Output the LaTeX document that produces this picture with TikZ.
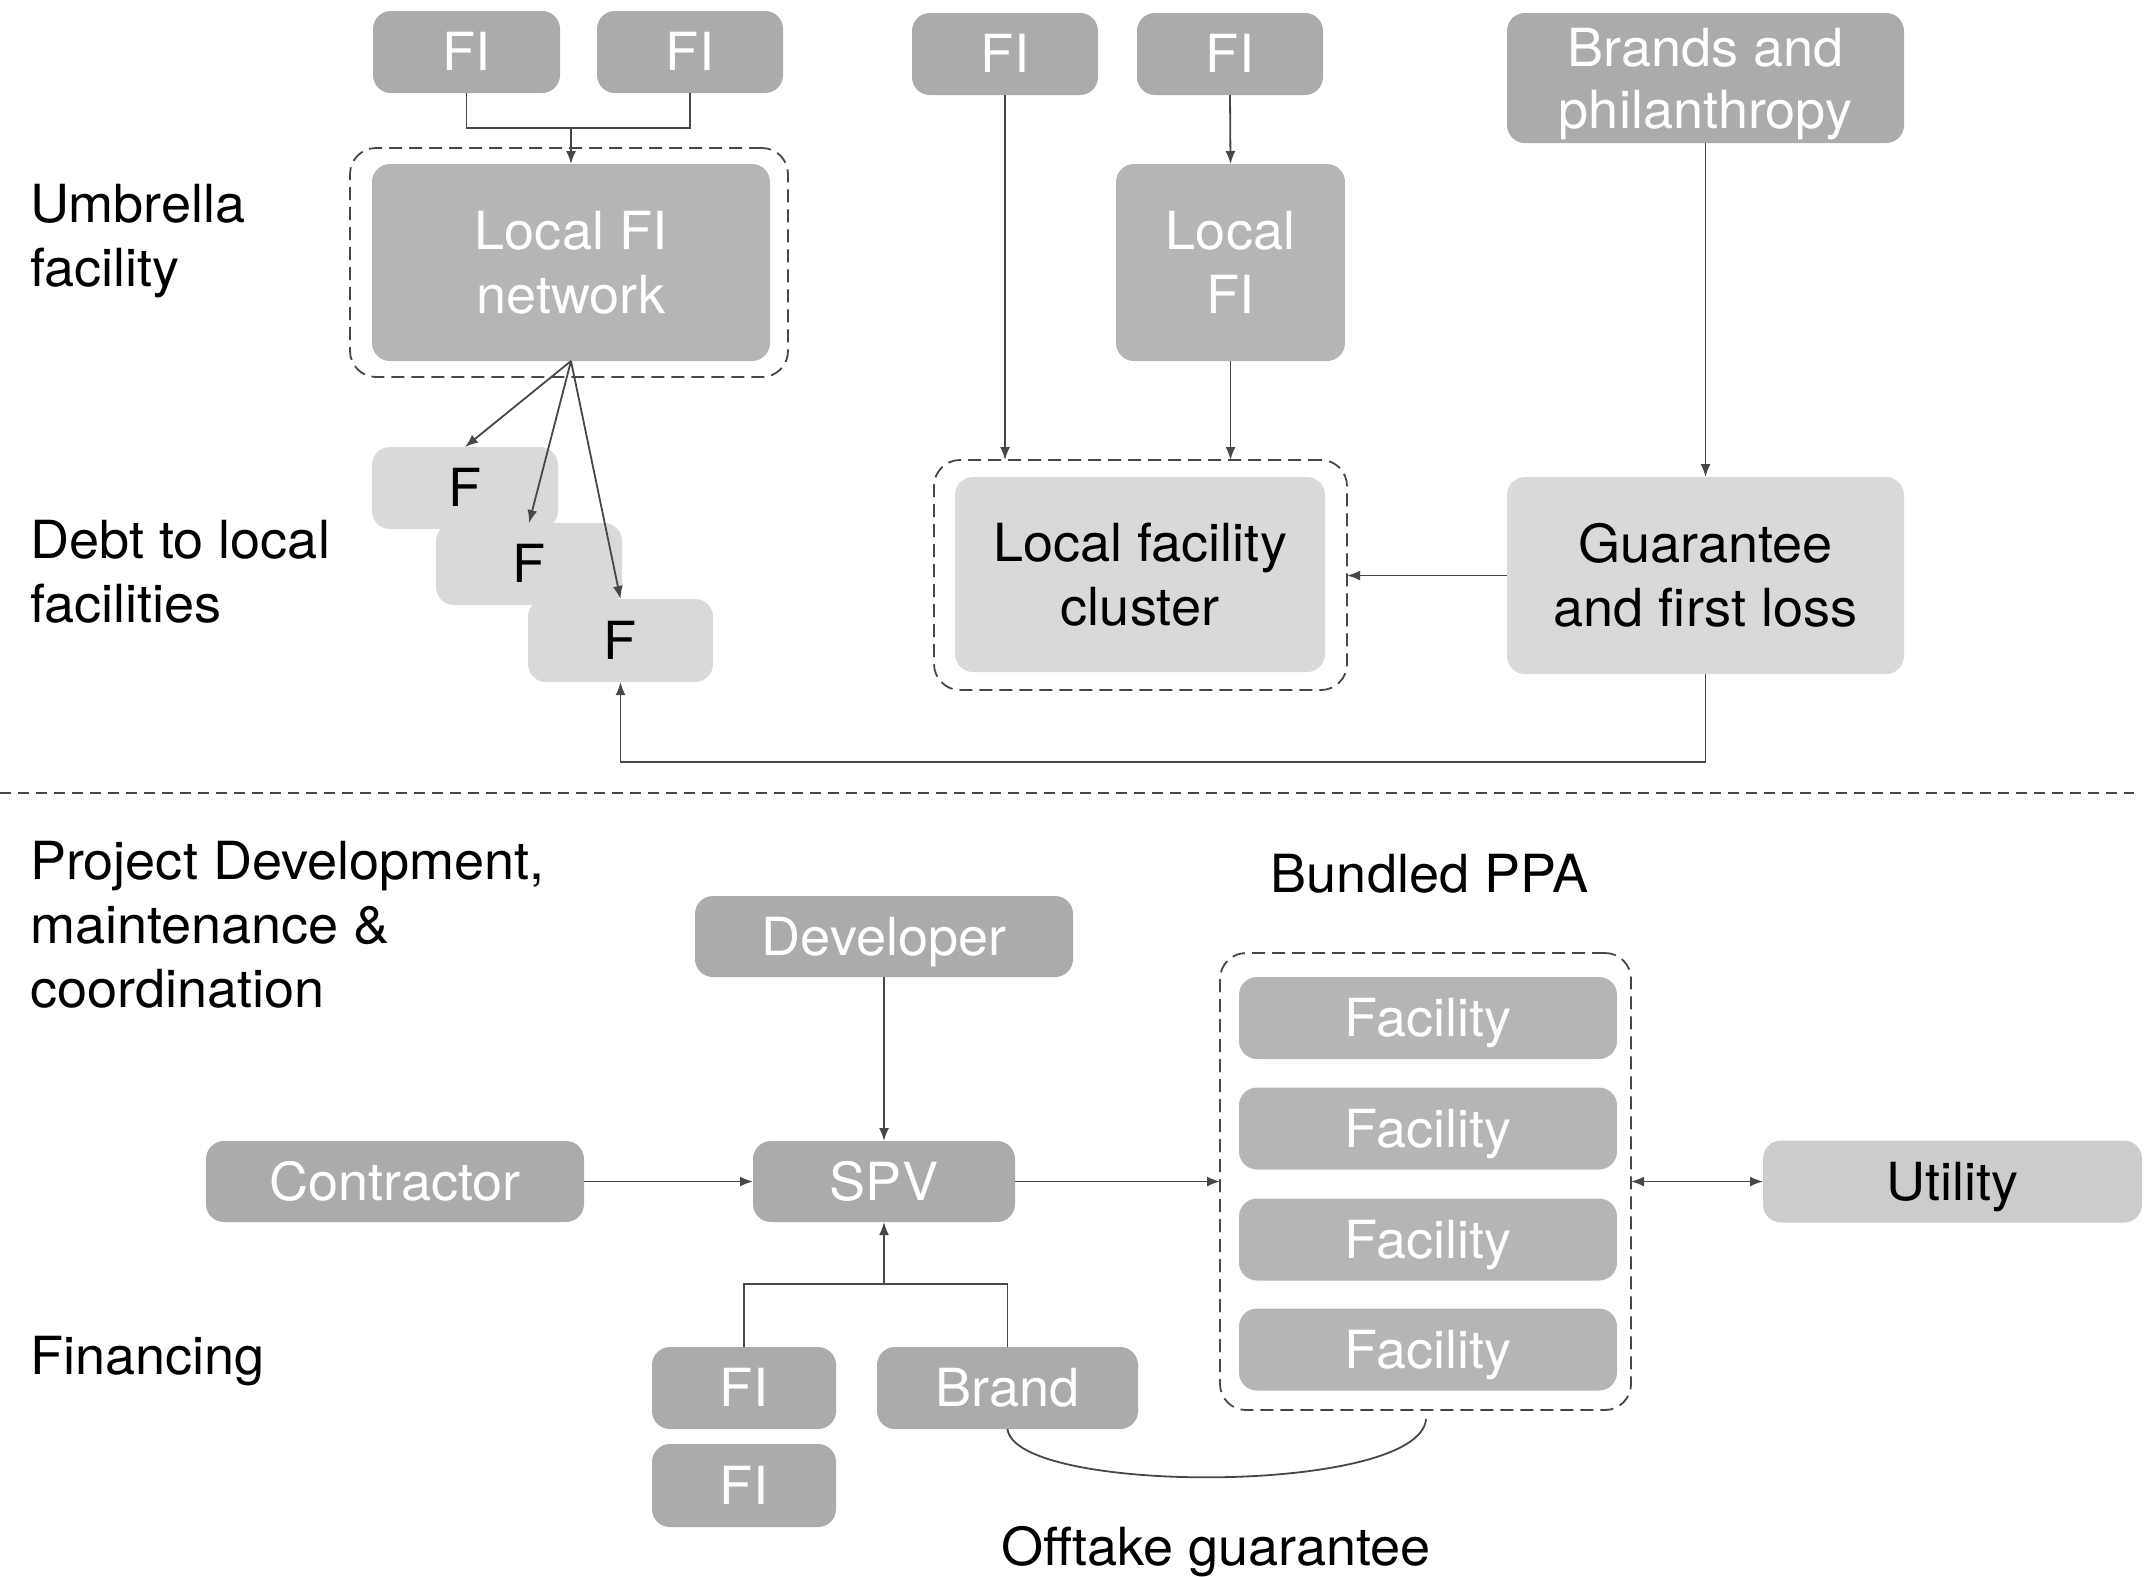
\documentclass[tikz,border=0pt]{standalone}
\usepackage{fontspec}
\setmainfont[FakeStretch=1.03]{TeX Gyre Heros}
\usetikzlibrary{arrows.meta}
\definecolor{boxdark}{HTML}{ABABAB}
\definecolor{boxmid}{HTML}{B5B5B5}
\definecolor{boxlight}{HTML}{D9D9D9}
\definecolor{boxutil}{HTML}{CCCCCC}
\definecolor{wire}{HTML}{474747}

\begin{document}
\begin{tikzpicture}[x=0.5pt,y=-0.5pt,
  every node/.style={font=\fontsize{26.25}{32}\selectfont, inner sep=0pt, outer sep=0pt},
  pbox/.style 2 args={rectangle, rounded corners=9pt, minimum width=#1, minimum height=#2},
  single/.style={text height=18.75pt, text depth=0pt},
  multi/.style={align=center},
  dark/.style={fill=boxdark, text=white},
  mid/.style={fill=boxmid, text=white},
  light/.style={fill=boxlight, text=black},
  util/.style={fill=boxutil, text=black},
  frame/.style 2 args={rectangle, draw=wire, line width=0.9pt, dash pattern=on 6.5pt off 3.5pt,
    rounded corners=13pt, minimum width=#1, minimum height=#2},
  link/.style={draw=wire, line width=0.9pt},
  arr/.style={link, -{Latex[length=6.5pt,width=5pt]}},
  duo/.style={link, {Latex[length=6.5pt,width=5pt]}-{Latex[length=6.5pt,width=5pt]}},
  note/.style={align=left, anchor=north west, text=black},
]
\useasboundingbox (0,0) rectangle (2150,1576);

% dashed groupings
\node[frame={219pt}{114.5pt}] (lfnf) at (569,262.5) {};
\node[frame={206.5pt}{115pt}] (cluf) at (1140.5,575) {};
\node[frame={205.5pt}{228.5pt}] (bund) at (1425.5,1181.5) {};

% umbrella facility
\node[pbox={93.5pt}{41pt}, dark, single] (fi1) at (466.5,52) {FI};
\node[pbox={93pt}{41pt}, dark, single] (fi2) at (690,52) {FI};
\node[pbox={199pt}{98.5pt}, mid, multi] (lfn) at (571,262.5) {Local FI\\network};

% debt to local facilities
\node[pbox={93pt}{41pt}, light, single] (f1) at (465,488) {F};
\node[pbox={93pt}{41pt}, light, single] (f2) at (529,564) {F};
\node[pbox={92.5pt}{41.5pt}, light, single] (f3) at (620.5,640.5) {F};

% local facility cluster
\node[pbox={93pt}{41pt}, dark, single] (fi3) at (1005,54) {FI};
\node[pbox={93pt}{41pt}, dark, single] (fi4) at (1230,54) {FI};
\node[pbox={114.5pt}{98.5pt}, mid, multi] (lfi) at (1230.5,262.5) {Local\\FI};
\node[pbox={185pt}{97.5pt}, light, multi] (clu) at (1140,574.5) {Local facility\\cluster};

% guarantee
\node[pbox={198.5pt}{65pt}, dark] (brd) at (1705.5,78) {};
\node[align=center, text=white, yshift=-3pt] (brdtxt) at (brd.center) {Brands and\\[-1pt]philanthropy};
\node[pbox={198.5pt}{98.5pt}, light, multi] (guar) at (1705.5,575.5) {Guarantee\\and first loss};

% row labels
\node[note] (lab1) at (30,184.5) {Umbrella\\facility};
\node[note] (lab2) at (30,520.5) {Debt to local\\facilities};
\node[note] (lab3) at (30,841.5) {Project Development,\\maintenance \&\\coordination};
\node[note] (lab4) at (30,1336) {Financing};

% section divider
\coordinate (sepl) at (0,793);
\coordinate (sepr) at (2134,793);
\draw[link, dash pattern=on 5.5pt off 3.5pt] (sepl) -- (sepr);

% project structure
\node[pbox={189pt}{40.5pt}, dark, single] (dev) at (884,936.5) {Developer};
\node[pbox={189pt}{40.5pt}, dark, single] (con) at (395,1181.5) {Contractor};
\node[pbox={131pt}{40.5pt}, dark, single] (spv) at (884,1181.5) {SPV};
\node[pbox={189.5pt}{41pt}, util, single] (utl) at (1952.5,1181.5) {Utility};

\node[anchor=base] (bppa) at (1429.5,892) {Bundled PPA};
\node[pbox={189pt}{41pt}, mid, single] (fac1) at (1428,1018) {Facility};
\node[pbox={189pt}{41pt}, mid, single] (fac2) at (1428,1128.5) {Facility};
\node[pbox={189pt}{41pt}, mid, single] (fac3) at (1428,1239.5) {Facility};
\node[pbox={189pt}{41pt}, mid, single] (fac4) at (1428,1349.5) {Facility};

% financing
\node[pbox={92pt}{41pt}, dark, single] (fi5) at (744,1388) {FI};
\node[pbox={92pt}{41.5pt}, dark, single] (fi6) at (744,1485.5) {FI};
\node[pbox={130.5pt}{41pt}, dark, single] (brand) at (1007.5,1388) {Brand};
\node[anchor=base] (otg) at (1216,1565) {Offtake guarantee};

% connectors, upper part
\coordinate (jt) at (571,128);
\draw[link] (fi1.south) |- (jt) -| (fi2.south);
\draw[arr] (jt) -- (lfn.north);
\draw[arr] (lfn.south) -- (f1.north);
\draw[arr] (lfn.south) -- (f2.north);
\draw[arr] (lfn.south) -- (f3.north);
\draw[arr] (fi3.south) -- (fi3.south |- cluf.north);
\draw[arr] (fi4.south) -- (lfi.north);
\draw[arr] (lfi.south) -- (lfi.south |- cluf.north);
\draw[arr] (brd.south) -- (guar.north);
\draw[arr] (guar.west) -- (guar.west -| cluf.east);
\coordinate (jb) at (1200,762);
\draw[arr] (guar.south) |- (jb) -| (f3.south);

% connectors, lower part
\draw[arr] (dev.south) -- (spv.north);
\draw[arr] (con.east) -- (spv.west);
\draw[arr] (spv.east) -- (spv.east -| bund.west);
\draw[duo] (bund.east) -- (utl.west);
\coordinate (jf) at (884,1284);
\draw[link] (fi5.north) |- (jf) -| (brand.north);
\draw[arr] (jf) -- (spv.south);
\coordinate (bq) at (1426,1419);
\draw[link] (brand.south) .. controls (1015,1495) and (1420,1495) .. (bq);
\end{tikzpicture}
\end{document}
